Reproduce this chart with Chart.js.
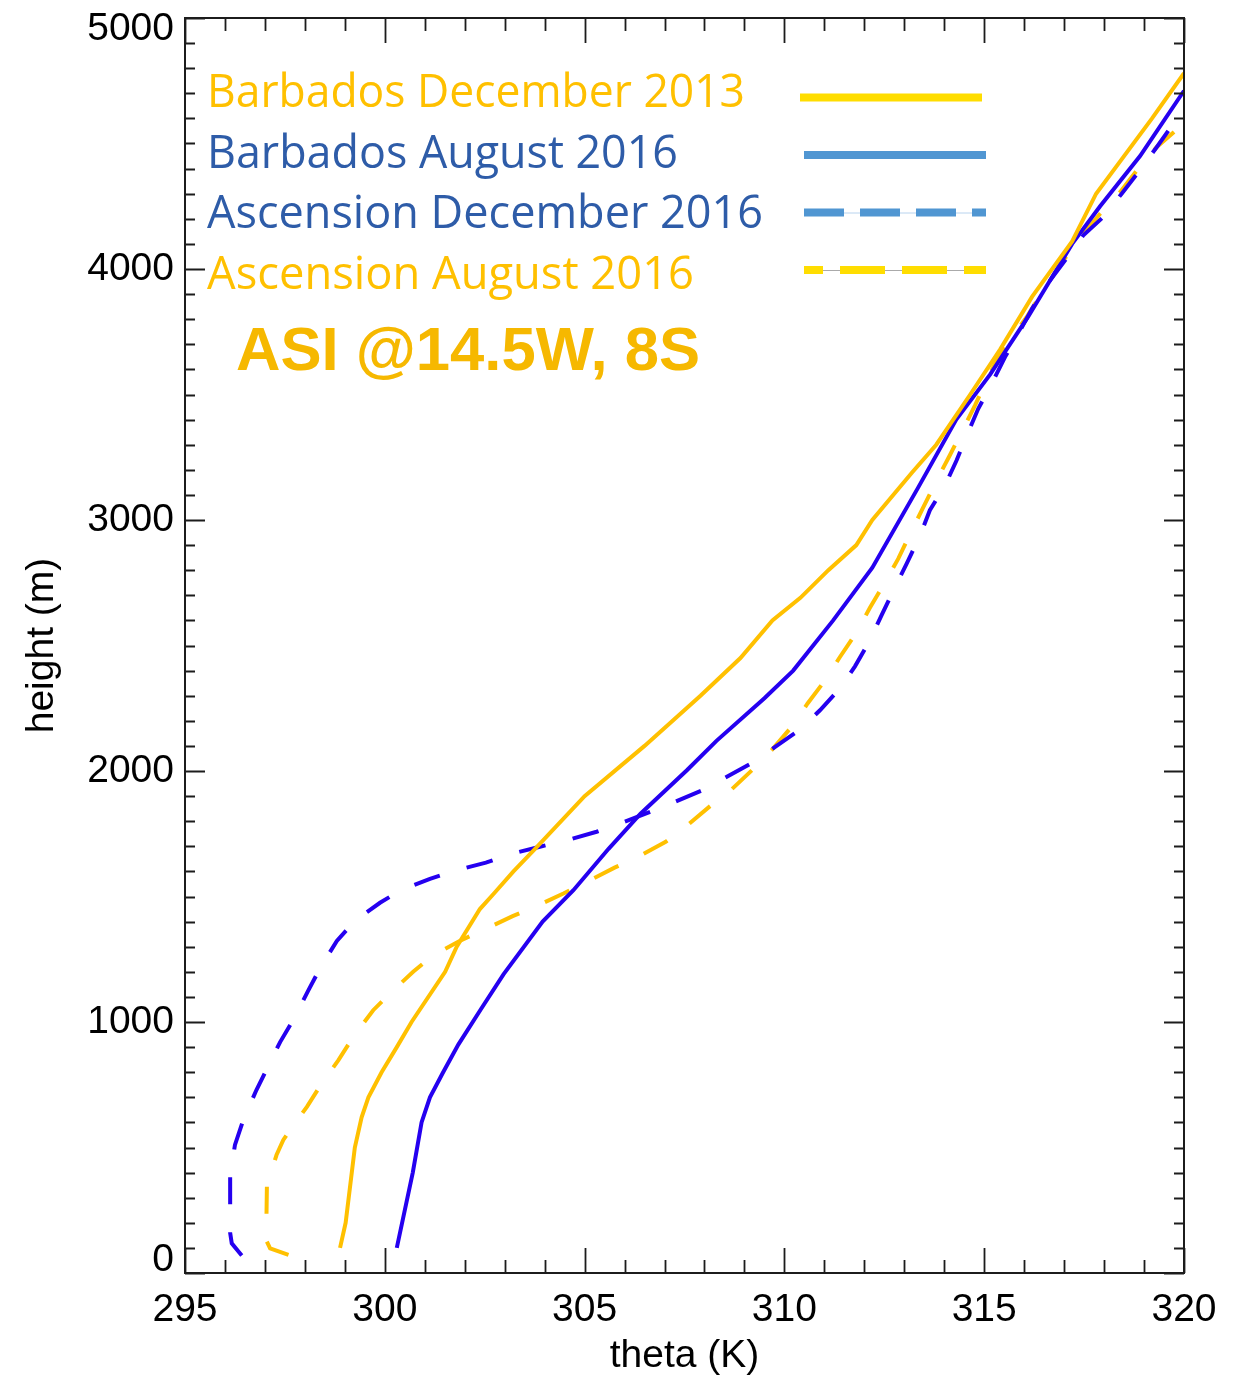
<!DOCTYPE html>
<html>
<head>
<meta charset="utf-8">
<script src="https://cdn.jsdelivr.net/npm/chart.js@4.4.1/dist/chart.umd.min.js"></script>
<style>
  html, body { margin: 0; padding: 0; background: #ffffff; }
  canvas { display: block; }
</style>
</head>
<body>
<canvas id="profiles" width="1250" height="1376"></canvas>
<script>
// Potential temperature profiles (theta in K, height in m)
const seriesNames = ['Barbados December 2013', 'Barbados August 2016', 'Ascension December 2016', 'Ascension August 2016'];

const barbadosDec2013Theta  = [298.88, 299.02, 299.25, 299.42, 299.59, 299.92, 300.30, 300.67, 301.51, 301.80, 302.38, 302.72, 303.22, 303.76, 305.0, 306.5, 307.9, 308.9, 309.7, 310.4, 311.1, 311.8, 312.2, 313.2, 313.8, 314.65, 315.4, 316.2, 317.2, 317.8, 319.2, 320.0];
const barbadosDec2013Height = [100, 200, 500, 620, 700, 800, 900, 1000, 1200, 1300, 1450, 1510, 1600, 1690, 1900, 2100, 2300, 2450, 2600, 2690, 2800, 2900, 3000, 3190, 3300, 3500, 3680, 3890, 4110, 4300, 4600, 4780];

const barbadosAug2016Theta  = [300.3, 300.7, 300.92, 301.13, 301.46, 301.84, 302.4, 302.97, 303.95, 304.72, 305.6, 306.4, 307.56, 308.3, 309.5, 310.22, 311.22, 312.2, 313.35, 314.3, 315.15, 316.1, 317.2, 317.9, 318.9, 320.0];
const barbadosAug2016Height = [100, 400, 600, 700, 800, 910, 1050, 1190, 1400, 1525, 1690, 1830, 2003, 2120, 2290, 2400, 2600, 2810, 3130, 3400, 3580, 3810, 4100, 4250, 4450, 4710];

const ascensionDec2016Theta  = [296.42, 296.17, 296.13, 296.13, 296.25, 296.46, 296.79, 297.38, 297.75, 298.09, 298.4, 298.8, 299.25, 299.88, 300.4, 301.13, 301.8, 302.53, 303.2, 303.88, 304.55, 305.3, 305.93, 306.64, 307.26, 307.97, 308.56, 309.2, 309.76, 310.4, 310.89, 311.39, 311.77, 312.14, 312.43, 312.77, 313.06, 313.4, 313.64, 314.02, 314.31, 314.6, 314.85, 315.23, 315.52, 315.9, 316.2, 316.65, 317.02, 317.48, 317.98, 318.44, 318.86, 319.32, 319.7];
const ascensionDec2016Height = [70, 118, 160, 390, 510, 610, 730, 920, 1020, 1127, 1220, 1323, 1403, 1475, 1525, 1570, 1605, 1635, 1671, 1698, 1724, 1758, 1793, 1837, 1877, 1925, 1977, 2033, 2095, 2166, 2242, 2329, 2418, 2521, 2620, 2733, 2826, 2940, 3039, 3138, 3238, 3350, 3443, 3556, 3649, 3755, 3843, 3955, 4034, 4134, 4207, 4300, 4386, 4486, 4572];

const ascensionAug2016Theta  = [297.59, 297.13, 297.03, 297.05, 297.29, 297.46, 297.63, 298.05, 298.42, 298.84, 299.21, 299.71, 300.13, 300.71, 301.21, 301.86, 302.46, 303.2, 303.84, 304.47, 305.05, 305.75, 306.36, 307.03, 307.55, 308.14, 308.66, 309.22, 309.72, 310.18, 310.58, 311.02, 311.39, 311.81, 312.14, 312.52, 312.85, 313.19, 313.48, 313.81, 314.14, 314.48, 314.77, 315.1, 315.4, 316.06, 316.48, 316.98, 317.48, 317.9, 318.4, 318.82, 319.32, 319.85];
const ascensionAug2016Height = [72, 98, 131, 350, 470, 530, 569, 662, 755, 848, 941, 1047, 1114, 1200, 1266, 1322, 1366, 1422, 1465, 1512, 1558, 1615, 1660, 1718, 1781, 1860, 1924, 2008, 2090, 2176, 2269, 2362, 2454, 2554, 2650, 2753, 2846, 2959, 3052, 3158, 3258, 3364, 3457, 3570, 3665, 3808, 3915, 4034, 4140, 4220, 4306, 4393, 4486, 4560];

const thetaTicks  = [295, 300, 305, 310, 315, 320];
const heightTicks = [0, 1000, 2000, 3000, 4000, 5000];
const thetaMinorStep = 1;
const heightMinorStep = 100;

const xTitle = 'theta (K)';
const yTitle = 'height (m)';
const stationLabel = 'ASI @14.5W, 8S';

// Colours
const YELLOW_LINE = '#FFC000';
const BLUE_LINE   = '#2500F0';
const YELLOW_TEXT = '#FFC000';
const BLUE_TEXT   = '#2E5CA8';
const YELLOW_KEY  = '#FFDD00';
const BLUE_KEY    = '#5096D2';

// Legend layout: rendered width of each name
const legendTextWidths = [538, 471, 556, 487];

const pts = (t, h) => t.map((v, i) => ({ x: v, y: h[i] }));

const seriesStyle = [
  { color: YELLOW_LINE, text: YELLOW_TEXT, key: YELLOW_KEY, dash: [],       keyDash: [],       keyOffset: 0,  thin: null },
  { color: BLUE_LINE,   text: BLUE_TEXT,   key: BLUE_KEY,   dash: [],       keyDash: [],       keyOffset: 0,  thin: null },
  { color: BLUE_LINE,   text: BLUE_TEXT,   key: BLUE_KEY,   dash: [27, 28], keyDash: [40, 16], keyOffset: 0,  thin: '#B8D3EE' },
  { color: YELLOW_LINE, text: YELLOW_TEXT, key: YELLOW_KEY, dash: [27, 28], keyDash: [45, 17], keyOffset: 26, thin: '#AAAAAA' }
];

const seriesData = [
  pts(barbadosDec2013Theta, barbadosDec2013Height),
  pts(barbadosAug2016Theta, barbadosAug2016Height),
  pts(ascensionDec2016Theta, ascensionDec2016Height),
  pts(ascensionAug2016Theta, ascensionAug2016Height)
];

const AXIS_FONT = '39px "Liberation Sans", Arial, Helvetica, sans-serif';

// Boxed axes with inward ticks on all four sides, plus tick labels and titles
const framePlugin = {
  id: 'frame',
  afterDatasetsDraw(chart) {
    const { ctx, chartArea: a, scales: { x, y } } = chart;
    ctx.save();
    ctx.strokeStyle = '#1c1c1c';
    ctx.lineWidth = 2;
    ctx.strokeRect(a.left, a.top, a.right - a.left, a.bottom - a.top);

    ctx.lineWidth = 1.8;
    ctx.beginPath();
    for (let v = x.min; v <= x.max + 1e-9; v += thetaMinorStep) {
      const px = Math.round(x.getPixelForValue(v)) + 0.5;
      const major = thetaTicks.includes(Math.round(v));
      const len = major ? 25 : 13;
      ctx.moveTo(px, a.bottom); ctx.lineTo(px, a.bottom - len);
      ctx.moveTo(px, a.top);    ctx.lineTo(px, a.top + len);
    }
    for (let v = y.min; v <= y.max + 1e-9; v += heightMinorStep) {
      const py = Math.round(y.getPixelForValue(v)) + 0.5;
      const major = heightTicks.includes(Math.round(v));
      const len = major ? 20 : 10;
      ctx.moveTo(a.left, py);  ctx.lineTo(a.left + len, py);
      ctx.moveTo(a.right, py); ctx.lineTo(a.right - len, py);
    }
    ctx.stroke();

    ctx.fillStyle = '#000000';
    ctx.font = AXIS_FONT;
    ctx.textAlign = 'center';
    ctx.textBaseline = 'middle';
    thetaTicks.forEach(v => ctx.fillText(String(v), x.getPixelForValue(v), a.bottom + 37));

    ctx.textAlign = 'right';
    heightTicks.forEach(v => {
      let py = y.getPixelForValue(v);
      py = Math.min(Math.max(py, a.top + 11), a.bottom - 13);
      ctx.fillText(String(v), a.left - 11, py);
    });

    ctx.textAlign = 'center';
    ctx.fillText(xTitle, (a.left + a.right) / 2, a.bottom + 83);
    ctx.save();
    ctx.translate(42, (a.top + a.bottom) / 2);
    ctx.rotate(-Math.PI / 2);
    ctx.fillText(yTitle, 0, 0);
    ctx.restore();
    ctx.restore();
  }
};

// Text fitted to a given width by horizontal scaling
function fitText(ctx, text, x, yBase, width) {
  const w = ctx.measureText(text).width;
  ctx.save();
  ctx.translate(x, yBase);
  ctx.scale(width / w, 1);
  ctx.fillText(text, 0, 0);
  ctx.restore();
}

// Legend: coloured names on the left, line keys on the right; station label below
const keyPlugin = {
  id: 'keyBox',
  afterDraw(chart) {
    const { ctx } = chart;
    ctx.save();
    ctx.font = '45px "Open Sans", "Noto Sans", sans-serif';
    ctx.textAlign = 'left';
    ctx.textBaseline = 'alphabetic';
    seriesNames.forEach((name, i) => {
      const st = seriesStyle[i];
      ctx.fillStyle = st.text;
      fitText(ctx, name, 207, 107 + i * 60.7, legendTextWidths[i]);

      const ky = 97.5 + i * 57.5;
      const x0 = i === 0 ? 800 : 804;
      const x1 = i === 0 ? 982 : 986;
      if (st.thin) {
        ctx.strokeStyle = st.thin;
        ctx.lineWidth = 1;
        ctx.setLineDash([]);
        ctx.beginPath(); ctx.moveTo(x0, ky + 0.5); ctx.lineTo(x1, ky + 0.5); ctx.stroke();
      }
      ctx.strokeStyle = st.key;
      ctx.lineWidth = 8;
      ctx.lineCap = 'butt';
      ctx.setLineDash(st.keyDash);
      ctx.lineDashOffset = st.keyOffset;
      ctx.beginPath(); ctx.moveTo(x0, ky); ctx.lineTo(x1, ky); ctx.stroke();
    });
    ctx.setLineDash([]);

    ctx.fillStyle = '#F6B800';
    ctx.font = 'bold 61px "Liberation Sans", Arial, sans-serif';
    fitText(ctx, stationLabel, 236, 370, 464);
    ctx.restore();
  }
};

new Chart(document.getElementById('profiles').getContext('2d'), {
  type: 'scatter',
  data: {
    datasets: seriesNames.map((name, i) => ({
      label: name,
      data: seriesData[i],
      showLine: true,
      borderColor: seriesStyle[i].color,
      backgroundColor: seriesStyle[i].color,
      borderWidth: 4,
      borderDash: seriesStyle[i].dash,
      pointRadius: 0,
      tension: 0,
      fill: false
    }))
  },
  options: {
    responsive: false,
    animation: false,
    devicePixelRatio: 1,
    layout: { padding: { left: 185, top: 18, right: 66, bottom: 103 } },
    scales: {
      x: { type: 'linear', min: 295, max: 320, display: false },
      y: { type: 'linear', min: 0, max: 5000, display: false }
    },
    plugins: { legend: { display: false }, tooltip: { enabled: false } }
  },
  plugins: [framePlugin, keyPlugin]
});
</script>
</body>
</html>
